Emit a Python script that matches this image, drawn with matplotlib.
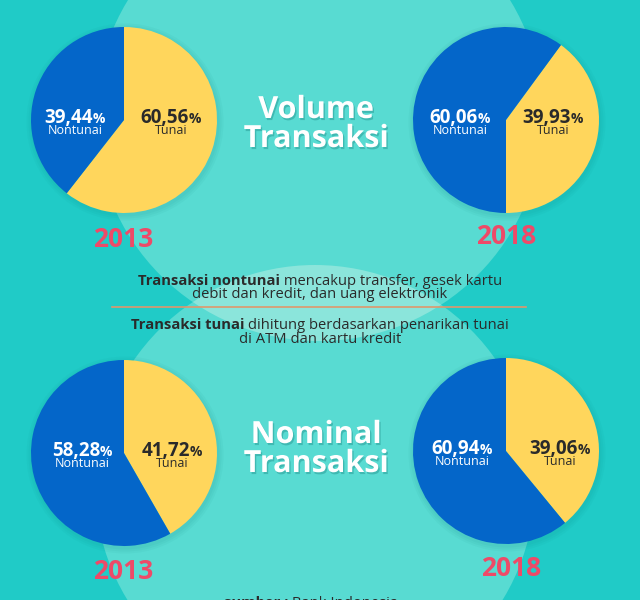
import matplotlib
matplotlib.use('Agg')
import matplotlib.pyplot as plt
from matplotlib.patches import Circle
import matplotlib.patheffects as pe

plt.rcParams['font.family'] = ['Open Sans', 'DejaVu Sans']

W, H = 640, 600

# ======================= DATA =======================
years = ['2013', '2018']
volume_tunai = [60.56, 39.93]
volume_nontunai = [39.44, 60.06]
nominal_tunai = [41.72, 39.06]
nominal_nontunai = [58.28, 60.94]
label_tunai = 'Tunai'
label_nontunai = 'Nontunai'
title_volume = ['Volume', 'Transaksi']
title_nominal = ['Nominal', 'Transaksi']
note_lines = [
    [('Transaksi nontunai', 'bold'), (' mencakup transfer, gesek kartu', 'normal')],
    [('debit dan kredit, dan uang elektronik', 'normal')],
    [('Transaksi tunai', 'bold'), (' dihitung berdasarkan penarikan tunai', 'normal')],
    [('di ATM dan kartu kredit', 'normal')],
]
source = [('sumber :', 'bold'), (' Bank Indonesia', 'normal')]

# ======================= STYLE =======================
c_bg = '#20cbc7'
c_circle = '#58dbd2'
c_lens = '#8be5db'
c_blue = '#0466c9'
c_yellow = '#ffd65c'
c_dark = '#2a2a2a'
c_red = '#ee4a68'
c_rule = '#e0976c'

fig = plt.figure(figsize=(6.4, 6.0), dpi=100)
fig.patch.set_facecolor(c_bg)
ax = fig.add_axes([0, 0, 1, 1])
ax.set_facecolor(c_bg)


def Y(py):
    return H - py


# background circles (pixel coords, y from top)
top_c = Circle((319, Y(117)), 224, color=c_circle, lw=0, zorder=0)
bot_c = Circle((315, Y(485)), 220, color=c_circle, lw=0, zorder=0)
lens = Circle((315, Y(485)), 220, color=c_lens, lw=0, zorder=0.5)
ax.add_patch(top_c)
ax.add_patch(bot_c)
ax.add_patch(lens)
lens.set_clip_path(top_c)

# pies: (center x, center y, values, startangle, counterclock, label offsets)
pies = [
    (124, 120, [volume_tunai[0], volume_nontunai[0]], 90, False, 47, -49),
    (506, 120, [volume_tunai[1], volume_nontunai[1]], -90, True, 47, -46),
    (124, 453, [nominal_tunai[0], nominal_nontunai[0]], 90, False, 48, -42),
    (506, 451, [nominal_tunai[1], nominal_nontunai[1]], 90, False, 54, -44),
]
R = 93

for cx, cy, vals, start, ccw, _, _ in pies:
    for k, a in enumerate([0.05, 0.05, 0.05]):
        ax.add_patch(Circle((cx + 1, Y(cy) - 2), R + 1.5 + 2 * k, color='#0a7f7c',
                            alpha=a, lw=0, zorder=1))
    ax.pie(vals, colors=[c_yellow, c_blue], startangle=start, counterclock=ccw,
           center=(cx, Y(cy)), radius=R, frame=True,
           wedgeprops=dict(linewidth=0.3, zorder=2))

fig.canvas.draw()
renderer = fig.canvas.get_renderer()


def row(x, py, parts, color, zorder=5, effects=None):
    texts = []
    for s, size, weight in parts:
        t = ax.text(0, Y(py), s, fontsize=size, fontweight=weight, color=color,
                    ha='left', va='baseline', zorder=zorder)
        if effects:
            t.set_path_effects(effects)
        texts.append(t)
    widths = [t.get_window_extent(renderer).width for t in texts]
    x0 = x - sum(widths) / 2
    for t, w in zip(texts, widths):
        t.set_x(x0)
        x0 += w


def pct(v):
    return f'{v:.2f}'.replace('.', ',')


# labels inside pies
for cx, cy, vals, start, ccw, dx_t, dx_n in pies:
    row(cx + dx_t, cy + 3, [(pct(vals[0]), 13.5, 'bold'), ('%', 10, 'bold')], c_dark)
    ax.text(cx + dx_t, Y(cy + 14), label_tunai, fontsize=9, color=c_dark,
            ha='center', va='baseline', zorder=5)
    row(cx + dx_n, cy + 3, [(pct(vals[1]), 13.5, 'bold'), ('%', 10, 'bold')], 'white')
    ax.text(cx + dx_n, Y(cy + 14), label_nontunai, fontsize=9, color='white',
            ha='center', va='baseline', zorder=5)

# year labels
year_pos = [(123, 247), (506, 244), (123, 579), (511, 576)]
for (x, py), yr in zip(year_pos, years * 2):
    ax.text(x, Y(py), yr, fontsize=19, fontweight='bold', color=c_red,
            ha='center', va='baseline', zorder=5)

# section titles
shadow = [pe.withSimplePatchShadow(offset=(1, -1.5), shadow_rgbFace='#137a78', alpha=0.35)]
for (line, py) in zip(title_volume + title_nominal, [118, 147, 443, 472]):
    ax.text(316, Y(py), line, fontsize=22, fontweight='bold', color='white',
            ha='center', va='baseline', zorder=5, path_effects=shadow)

# notes and divider
for parts, py in zip(note_lines, [285, 298, 329, 343]):
    row(320, py, [(s, 10.6, w) for s, w in parts], c_dark)
ax.plot([112, 526], [Y(307), Y(307)], color=c_rule, lw=1.2, zorder=4)

# source (cut at the bottom edge)
row(311, 607, [(s, 10.6, w) for s, w in source], c_dark)

ax.set_xlim(0, W)
ax.set_ylim(0, H)
ax.set_aspect('auto')
ax.axis('off')

fig.savefig('out.png', dpi=100, facecolor=c_bg)
